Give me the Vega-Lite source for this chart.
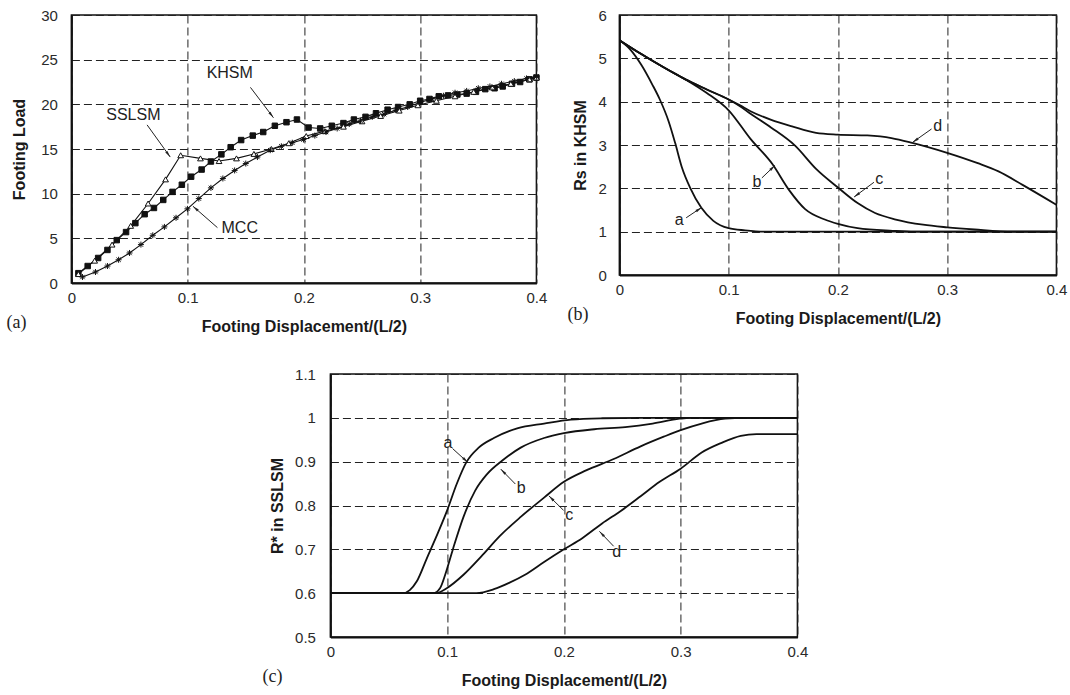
{
  "$schema": "https://vega.github.io/schema/vega-lite/v6.json",
  "background": "white",
  "padding": {"left": 5, "top": 7, "right": 0, "bottom": 0},
  "config": {
    "font": "Liberation Sans",
    "view": {"stroke": "#111", "strokeWidth": 1.5},
    "axis": {"grid": true, "gridDash": [8, 4], "gridColor": "#222", "gridWidth": 1, "gridOpacity": 1, "ticks": false, "domainColor": "#111", "domainWidth": 2, "labelFont": "Liberation Sans", "labelFontSize": 15, "labelColor": "#2a2a2a", "labelFlush": false, "titleFont": "Liberation Sans", "titleFontSize": 16, "titleFontWeight": "bold", "titleColor": "#1a1a1a"},
    "title": {"font": "Liberation Serif", "fontSize": 18, "fontWeight": "normal", "color": "#222"},
    "text": {"font": "Liberation Sans", "fontSize": 16, "color": "#222"}
  },
  "datasets": {
    "loadCurves": [
      {"series": "KHSM", "disp": 0.006, "load": 1.1}, {"series": "KHSM", "disp": 0.014, "load": 1.9}, {"series": "KHSM", "disp": 0.023, "load": 2.8}, {"series": "KHSM", "disp": 0.031, "load": 3.7}, {"series": "KHSM", "disp": 0.039, "load": 4.8}, {"series": "KHSM", "disp": 0.047, "load": 5.7}, {"series": "KHSM", "disp": 0.055, "load": 6.7}, {"series": "KHSM", "disp": 0.063, "load": 7.7}, {"series": "KHSM", "disp": 0.071, "load": 8.4}, {"series": "KHSM", "disp": 0.079, "load": 9.3}, {"series": "KHSM", "disp": 0.087, "load": 10.2}, {"series": "KHSM", "disp": 0.095, "load": 11.0}, {"series": "KHSM", "disp": 0.103, "load": 11.9}, {"series": "KHSM", "disp": 0.112, "load": 12.7}, {"series": "KHSM", "disp": 0.12, "load": 13.6}, {"series": "KHSM", "disp": 0.129, "load": 14.4}, {"series": "KHSM", "disp": 0.137, "load": 15.2}, {"series": "KHSM", "disp": 0.146, "load": 16.0}, {"series": "KHSM", "disp": 0.156, "load": 16.5}, {"series": "KHSM", "disp": 0.165, "load": 16.9}, {"series": "KHSM", "disp": 0.175, "load": 17.6}, {"series": "KHSM", "disp": 0.185, "load": 18.0}, {"series": "KHSM", "disp": 0.194, "load": 18.3}, {"series": "KHSM", "disp": 0.204, "load": 17.4}, {"series": "KHSM", "disp": 0.214, "load": 17.3}, {"series": "KHSM", "disp": 0.224, "load": 17.6}, {"series": "KHSM", "disp": 0.234, "load": 17.9}, {"series": "KHSM", "disp": 0.243, "load": 18.3}, {"series": "KHSM", "disp": 0.253, "load": 18.6}, {"series": "KHSM", "disp": 0.262, "load": 19.0}, {"series": "KHSM", "disp": 0.272, "load": 19.4}, {"series": "KHSM", "disp": 0.281, "load": 19.7}, {"series": "KHSM", "disp": 0.291, "load": 20.0}, {"series": "KHSM", "disp": 0.3, "load": 20.4}, {"series": "KHSM", "disp": 0.308, "load": 20.6}, {"series": "KHSM", "disp": 0.316, "load": 20.9}, {"series": "KHSM", "disp": 0.324, "load": 21.0}, {"series": "KHSM", "disp": 0.332, "load": 21.1}, {"series": "KHSM", "disp": 0.34, "load": 21.2}, {"series": "KHSM", "disp": 0.348, "load": 21.4}, {"series": "KHSM", "disp": 0.356, "load": 21.7}, {"series": "KHSM", "disp": 0.364, "load": 21.8}, {"series": "KHSM", "disp": 0.371, "load": 22.0}, {"series": "KHSM", "disp": 0.379, "load": 22.3}, {"series": "KHSM", "disp": 0.386, "load": 22.5}, {"series": "KHSM", "disp": 0.394, "load": 22.8}, {"series": "KHSM", "disp": 0.4, "load": 23.0},
      {"series": "SSLSM", "disp": 0.006, "load": 1.0}, {"series": "SSLSM", "disp": 0.02, "load": 2.5}, {"series": "SSLSM", "disp": 0.035, "load": 4.3}, {"series": "SSLSM", "disp": 0.051, "load": 6.4}, {"series": "SSLSM", "disp": 0.066, "load": 8.9}, {"series": "SSLSM", "disp": 0.081, "load": 11.6}, {"series": "SSLSM", "disp": 0.094, "load": 14.3}, {"series": "SSLSM", "disp": 0.111, "load": 13.95}, {"series": "SSLSM", "disp": 0.127, "load": 13.65}, {"series": "SSLSM", "disp": 0.142, "load": 13.95}, {"series": "SSLSM", "disp": 0.157, "load": 14.45}, {"series": "SSLSM", "disp": 0.172, "load": 15.0}, {"series": "SSLSM", "disp": 0.187, "load": 15.65}, {"series": "SSLSM", "disp": 0.202, "load": 16.45}, {"series": "SSLSM", "disp": 0.218, "load": 17.0}, {"series": "SSLSM", "disp": 0.234, "load": 17.5}, {"series": "SSLSM", "disp": 0.25, "load": 18.1}, {"series": "SSLSM", "disp": 0.266, "load": 18.7}, {"series": "SSLSM", "disp": 0.282, "load": 19.3}, {"series": "SSLSM", "disp": 0.298, "load": 19.9}, {"series": "SSLSM", "disp": 0.314, "load": 20.4}, {"series": "SSLSM", "disp": 0.33, "load": 20.9}, {"series": "SSLSM", "disp": 0.346, "load": 21.4}, {"series": "SSLSM", "disp": 0.362, "load": 21.9}, {"series": "SSLSM", "disp": 0.378, "load": 22.3}, {"series": "SSLSM", "disp": 0.394, "load": 22.8}, {"series": "SSLSM", "disp": 0.4, "load": 23.0},
      {"series": "MCC", "disp": 0.0095, "load": 0.67}, {"series": "MCC", "disp": 0.0207, "load": 1.23}, {"series": "MCC", "disp": 0.031, "load": 1.9}, {"series": "MCC", "disp": 0.0406, "load": 2.6}, {"series": "MCC", "disp": 0.05, "load": 3.36}, {"series": "MCC", "disp": 0.0598, "load": 4.3}, {"series": "MCC", "disp": 0.07, "load": 5.34}, {"series": "MCC", "disp": 0.08, "load": 6.28}, {"series": "MCC", "disp": 0.09, "load": 7.3}, {"series": "MCC", "disp": 0.0998, "load": 8.3}, {"series": "MCC", "disp": 0.1096, "load": 9.45}, {"series": "MCC", "disp": 0.12, "load": 10.65}, {"series": "MCC", "disp": 0.1303, "load": 11.7}, {"series": "MCC", "disp": 0.1404, "load": 12.6}, {"series": "MCC", "disp": 0.15, "load": 13.37}, {"series": "MCC", "disp": 0.16, "load": 14.1}, {"series": "MCC", "disp": 0.171, "load": 14.87}, {"series": "MCC", "disp": 0.1806, "load": 15.3}, {"series": "MCC", "disp": 0.19, "load": 15.7}, {"series": "MCC", "disp": 0.1996, "load": 16.06}, {"series": "MCC", "disp": 0.2094, "load": 16.5}, {"series": "MCC", "disp": 0.219, "load": 16.9}, {"series": "MCC", "disp": 0.2286, "load": 17.3}, {"series": "MCC", "disp": 0.239, "load": 17.8}, {"series": "MCC", "disp": 0.2487, "load": 18.15}, {"series": "MCC", "disp": 0.2588, "load": 18.6}, {"series": "MCC", "disp": 0.269, "load": 18.9}, {"series": "MCC", "disp": 0.279, "load": 19.35}, {"series": "MCC", "disp": 0.2893, "load": 19.7}, {"series": "MCC", "disp": 0.2997, "load": 20.2}, {"series": "MCC", "disp": 0.31, "load": 20.6}, {"series": "MCC", "disp": 0.32, "load": 20.96}, {"series": "MCC", "disp": 0.33, "load": 21.3}, {"series": "MCC", "disp": 0.34, "load": 21.5}, {"series": "MCC", "disp": 0.35, "load": 21.8}, {"series": "MCC", "disp": 0.36, "load": 22.0}, {"series": "MCC", "disp": 0.37, "load": 22.3}, {"series": "MCC", "disp": 0.381, "load": 22.6}, {"series": "MCC", "disp": 0.3915, "load": 22.9}, {"series": "MCC", "disp": 0.4, "load": 23.1}
    ],
    "annA": [
      {"label": "KHSM", "lx": 0.1362, "ly": 23.5, "x1": 0.154, "y1": 21.9, "x2": 0.1738, "y2": 18.5},
      {"label": "SSLSM", "lx": 0.0533, "ly": 18.8, "x1": 0.0651, "y1": 17.7, "x2": 0.085, "y2": 14.1},
      {"label": "MCC", "lx": 0.1448, "ly": 6.2, "x1": 0.1256, "y1": 6.2, "x2": 0.1045, "y2": 8.6}
    ],
    "rsCurves": [
      {"curve": "a", "disp": 0, "rs": 5.42}, {"curve": "a", "disp": 0.01, "rs": 5.2}, {"curve": "a", "disp": 0.02, "rs": 4.85}, {"curve": "a", "disp": 0.03, "rs": 4.4}, {"curve": "a", "disp": 0.037, "rs": 4.05}, {"curve": "a", "disp": 0.045, "rs": 3.55}, {"curve": "a", "disp": 0.051, "rs": 3.05}, {"curve": "a", "disp": 0.057, "rs": 2.5}, {"curve": "a", "disp": 0.065, "rs": 2.0}, {"curve": "a", "disp": 0.075, "rs": 1.55}, {"curve": "a", "disp": 0.086, "rs": 1.25}, {"curve": "a", "disp": 0.1, "rs": 1.08}, {"curve": "a", "disp": 0.115, "rs": 1.03}, {"curve": "a", "disp": 0.133, "rs": 1.0}, {"curve": "a", "disp": 0.4, "rs": 1.0},
      {"curve": "b", "disp": 0, "rs": 5.42}, {"curve": "b", "disp": 0.02, "rs": 5.1}, {"curve": "b", "disp": 0.04, "rs": 4.8}, {"curve": "b", "disp": 0.06, "rs": 4.52}, {"curve": "b", "disp": 0.08, "rs": 4.2}, {"curve": "b", "disp": 0.1, "rs": 3.8}, {"curve": "b", "disp": 0.12, "rs": 3.14}, {"curve": "b", "disp": 0.14, "rs": 2.56}, {"curve": "b", "disp": 0.155, "rs": 1.97}, {"curve": "b", "disp": 0.17, "rs": 1.52}, {"curve": "b", "disp": 0.188, "rs": 1.28}, {"curve": "b", "disp": 0.2, "rs": 1.18}, {"curve": "b", "disp": 0.218, "rs": 1.08}, {"curve": "b", "disp": 0.25, "rs": 1.02}, {"curve": "b", "disp": 0.27, "rs": 1.0}, {"curve": "b", "disp": 0.4, "rs": 1.0},
      {"curve": "c", "disp": 0, "rs": 5.42}, {"curve": "c", "disp": 0.02, "rs": 5.1}, {"curve": "c", "disp": 0.04, "rs": 4.8}, {"curve": "c", "disp": 0.06, "rs": 4.52}, {"curve": "c", "disp": 0.08, "rs": 4.28}, {"curve": "c", "disp": 0.1, "rs": 4.05}, {"curve": "c", "disp": 0.11, "rs": 3.9}, {"curve": "c", "disp": 0.12, "rs": 3.72}, {"curve": "c", "disp": 0.139, "rs": 3.4}, {"curve": "c", "disp": 0.161, "rs": 2.98}, {"curve": "c", "disp": 0.18, "rs": 2.45}, {"curve": "c", "disp": 0.2, "rs": 2.02}, {"curve": "c", "disp": 0.218, "rs": 1.66}, {"curve": "c", "disp": 0.234, "rs": 1.43}, {"curve": "c", "disp": 0.253, "rs": 1.28}, {"curve": "c", "disp": 0.278, "rs": 1.16}, {"curve": "c", "disp": 0.3, "rs": 1.1}, {"curve": "c", "disp": 0.325, "rs": 1.05}, {"curve": "c", "disp": 0.36, "rs": 1.0}, {"curve": "c", "disp": 0.4, "rs": 1.0},
      {"curve": "d", "disp": 0, "rs": 5.42}, {"curve": "d", "disp": 0.02, "rs": 5.1}, {"curve": "d", "disp": 0.04, "rs": 4.8}, {"curve": "d", "disp": 0.06, "rs": 4.52}, {"curve": "d", "disp": 0.08, "rs": 4.28}, {"curve": "d", "disp": 0.1, "rs": 4.05}, {"curve": "d", "disp": 0.11, "rs": 3.92}, {"curve": "d", "disp": 0.12, "rs": 3.78}, {"curve": "d", "disp": 0.139, "rs": 3.58}, {"curve": "d", "disp": 0.158, "rs": 3.43}, {"curve": "d", "disp": 0.18, "rs": 3.28}, {"curve": "d", "disp": 0.2, "rs": 3.24}, {"curve": "d", "disp": 0.227, "rs": 3.22}, {"curve": "d", "disp": 0.249, "rs": 3.16}, {"curve": "d", "disp": 0.268, "rs": 3.05}, {"curve": "d", "disp": 0.3, "rs": 2.82}, {"curve": "d", "disp": 0.328, "rs": 2.58}, {"curve": "d", "disp": 0.347, "rs": 2.39}, {"curve": "d", "disp": 0.369, "rs": 2.08}, {"curve": "d", "disp": 0.4, "rs": 1.62}
    ],
    "annB": [
      {"label": "a", "lx": 0.0548, "ly": 1.26, "x1": 0.0611, "y1": 1.32, "x2": 0.0753, "y2": 1.56},
      {"label": "b", "lx": 0.126, "ly": 2.14, "x1": 0.1304, "y1": 2.24, "x2": 0.1424, "y2": 2.53},
      {"label": "c", "lx": 0.2378, "ly": 2.22, "x1": 0.233, "y1": 2.14, "x2": 0.2148, "y2": 1.8},
      {"label": "d", "lx": 0.2913, "ly": 3.45, "x1": 0.2857, "y1": 3.37, "x2": 0.2683, "y2": 3.06}
    ],
    "rCurves": [
      {"curve": "a", "disp": 0, "r": 0.6}, {"curve": "a", "disp": 0.062, "r": 0.6}, {"curve": "a", "disp": 0.068, "r": 0.607}, {"curve": "a", "disp": 0.074, "r": 0.627}, {"curve": "a", "disp": 0.0825, "r": 0.679}, {"curve": "a", "disp": 0.092, "r": 0.737}, {"curve": "a", "disp": 0.1, "r": 0.789}, {"curve": "a", "disp": 0.108, "r": 0.848}, {"curve": "a", "disp": 0.1165, "r": 0.899}, {"curve": "a", "disp": 0.127, "r": 0.932}, {"curve": "a", "disp": 0.14, "r": 0.954}, {"curve": "a", "disp": 0.16, "r": 0.976}, {"curve": "a", "disp": 0.183, "r": 0.987}, {"curve": "a", "disp": 0.206, "r": 0.996}, {"curve": "a", "disp": 0.233, "r": 0.999}, {"curve": "a", "disp": 0.266, "r": 1.0}, {"curve": "a", "disp": 0.4, "r": 1.0},
      {"curve": "b", "disp": 0, "r": 0.6}, {"curve": "b", "disp": 0.088, "r": 0.6}, {"curve": "b", "disp": 0.094, "r": 0.612}, {"curve": "b", "disp": 0.0983, "r": 0.642}, {"curve": "b", "disp": 0.105, "r": 0.701}, {"curve": "b", "disp": 0.114, "r": 0.774}, {"curve": "b", "disp": 0.124, "r": 0.834}, {"curve": "b", "disp": 0.134, "r": 0.871}, {"curve": "b", "disp": 0.147, "r": 0.902}, {"curve": "b", "disp": 0.163, "r": 0.932}, {"curve": "b", "disp": 0.183, "r": 0.954}, {"curve": "b", "disp": 0.2, "r": 0.965}, {"curve": "b", "disp": 0.226, "r": 0.974}, {"curve": "b", "disp": 0.2525, "r": 0.979}, {"curve": "b", "disp": 0.276, "r": 0.987}, {"curve": "b", "disp": 0.299, "r": 0.998}, {"curve": "b", "disp": 0.308, "r": 1.0}, {"curve": "b", "disp": 0.4, "r": 1.0},
      {"curve": "c", "disp": 0, "r": 0.6}, {"curve": "c", "disp": 0.09, "r": 0.6}, {"curve": "c", "disp": 0.1, "r": 0.612}, {"curve": "c", "disp": 0.114, "r": 0.642}, {"curve": "c", "disp": 0.13, "r": 0.686}, {"curve": "c", "disp": 0.145, "r": 0.73}, {"curve": "c", "disp": 0.163, "r": 0.774}, {"curve": "c", "disp": 0.183, "r": 0.818}, {"curve": "c", "disp": 0.2, "r": 0.854}, {"curve": "c", "disp": 0.219, "r": 0.88}, {"curve": "c", "disp": 0.2426, "r": 0.906}, {"curve": "c", "disp": 0.2657, "r": 0.935}, {"curve": "c", "disp": 0.2855, "r": 0.957}, {"curve": "c", "disp": 0.3, "r": 0.972}, {"curve": "c", "disp": 0.318, "r": 0.987}, {"curve": "c", "disp": 0.338, "r": 0.998}, {"curve": "c", "disp": 0.355, "r": 1.0}, {"curve": "c", "disp": 0.4, "r": 1.0},
      {"curve": "d", "disp": 0, "r": 0.6}, {"curve": "d", "disp": 0.125, "r": 0.6}, {"curve": "d", "disp": 0.14, "r": 0.609}, {"curve": "d", "disp": 0.1535, "r": 0.624}, {"curve": "d", "disp": 0.1667, "r": 0.642}, {"curve": "d", "disp": 0.183, "r": 0.671}, {"curve": "d", "disp": 0.2, "r": 0.7}, {"curve": "d", "disp": 0.216, "r": 0.726}, {"curve": "d", "disp": 0.2327, "r": 0.759}, {"curve": "d", "disp": 0.249, "r": 0.788}, {"curve": "d", "disp": 0.2657, "r": 0.821}, {"curve": "d", "disp": 0.282, "r": 0.854}, {"curve": "d", "disp": 0.3, "r": 0.884}, {"curve": "d", "disp": 0.318, "r": 0.921}, {"curve": "d", "disp": 0.335, "r": 0.943}, {"curve": "d", "disp": 0.3515, "r": 0.959}, {"curve": "d", "disp": 0.365, "r": 0.963}, {"curve": "d", "disp": 0.4, "r": 0.963}
    ],
    "annC": [
      {"label": "a", "lx": 0.1007, "ly": 0.943, "x1": 0.1046, "y1": 0.93, "x2": 0.1178, "y2": 0.898},
      {"label": "b", "lx": 0.1634, "ly": 0.839, "x1": 0.1584, "y1": 0.849, "x2": 0.1459, "y2": 0.883},
      {"label": "c", "lx": 0.2046, "ly": 0.778, "x1": 0.1997, "y1": 0.789, "x2": 0.1871, "y2": 0.822},
      {"label": "d", "lx": 0.2452, "ly": 0.695, "x1": 0.2426, "y1": 0.707, "x2": 0.2304, "y2": 0.741}
    ]
  },
  "center": true,
  "spacing": 31,
  "vconcat": [
    {
      "spacing": 18,
      "hconcat": [
        {
          "width": 465, "height": 268,
          "title": {"text": "(a)", "orient": "bottom", "anchor": "start", "frame": "group", "dx": -65, "offset": -20},
          "layer": [
            {
              "data": {"name": "loadCurves"},
              "mark": {"type": "line", "color": "#111", "strokeWidth": 1.1},
              "encoding": {
                "x": {"field": "disp", "type": "quantitative", "title": "Footing Displacement/(L/2)", "scale": {"domain": [0, 0.4], "nice": false}, "axis": {"values": [0, 0.1, 0.2, 0.3, 0.4], "format": "~g", "labelPadding": 7, "titlePadding": 13}},
                "y": {"field": "load", "type": "quantitative", "title": "Footing Load", "scale": {"domain": [0, 30], "nice": false}, "axis": {"values": [0, 5, 10, 15, 20, 25, 30], "labelPadding": 14, "titlePadding": 13}},
                "detail": {"field": "series"}
              }
            },
            {
              "data": {"name": "loadCurves"},
              "mark": {"type": "point", "strokeWidth": 1, "opacity": 1},
              "encoding": {
                "x": {"field": "disp", "type": "quantitative", "title": "Footing Displacement/(L/2)"},
                "y": {"field": "load", "type": "quantitative", "title": "Footing Load"},
                "shape": {"field": "series", "type": "nominal", "scale": {"domain": ["KHSM", "SSLSM", "MCC"], "range": ["square", "triangle-up", "M-1,0L1,0M0,-1L0,1M-0.72,-0.72L0.72,0.72M-0.72,0.72L0.72,-0.72"]}, "legend": null},
                "fill": {"field": "series", "type": "nominal", "scale": {"domain": ["KHSM", "SSLSM", "MCC"], "range": ["#111", "white", "transparent"]}, "legend": null},
                "size": {"field": "series", "type": "nominal", "scale": {"domain": ["KHSM", "SSLSM", "MCC"], "range": [30, 36, 56]}, "legend": null},
                "stroke": {"value": "#111"}
              }
            },
            {
              "data": {"name": "annA"},
              "mark": {"type": "rule", "color": "#222", "strokeWidth": 1},
              "encoding": {
                "x": {"field": "x1", "type": "quantitative", "title": "Footing Displacement/(L/2)"},
                "y": {"field": "y1", "type": "quantitative", "title": "Footing Load"},
                "x2": {"field": "x2"}, "y2": {"field": "y2"}
              }
            },
            {
              "data": {"name": "annA"},
              "transform": [{"calculate": "atan2((datum.x2 - datum.x1) * 1162.5, (datum.y2 - datum.y1) * 8.933) * 180 / PI", "as": "ang"}],
              "mark": {"type": "point", "shape": "M0,0L-0.45,2.2L0.45,2.2Z", "filled": true, "color": "#222", "size": 36, "opacity": 1},
              "encoding": {
                "x": {"field": "x2", "type": "quantitative", "title": "Footing Displacement/(L/2)"},
                "y": {"field": "y2", "type": "quantitative", "title": "Footing Load"},
                "angle": {"field": "ang", "type": "quantitative", "scale": null}
              }
            },
            {
              "data": {"name": "annA"},
              "mark": {"type": "text"},
              "encoding": {
                "x": {"field": "lx", "type": "quantitative", "title": "Footing Displacement/(L/2)"},
                "y": {"field": "ly", "type": "quantitative", "title": "Footing Load"},
                "text": {"field": "label"}
              }
            }
          ]
        },
        {
          "width": 437, "height": 260,
          "title": {"text": "(b)", "orient": "bottom", "anchor": "start", "frame": "group", "dx": -52, "offset": -20},
          "layer": [
            {
              "data": {"name": "rsCurves"},
              "mark": {"type": "line", "color": "#111", "strokeWidth": 1.8, "interpolate": "monotone"},
              "encoding": {
                "x": {"field": "disp", "type": "quantitative", "title": "Footing Displacement/(L/2)", "scale": {"domain": [0, 0.4], "nice": false}, "axis": {"values": [0, 0.1, 0.2, 0.3, 0.4], "format": "~g", "labelPadding": 7, "titlePadding": 13}},
                "y": {"field": "rs", "type": "quantitative", "title": "Rs in KHSM", "scale": {"domain": [0, 6], "nice": false}, "axis": {"values": [0, 1, 2, 3, 4, 5, 6], "labelPadding": 13, "titlePadding": 10}},
                "detail": {"field": "curve"}
              }
            },
            {
              "data": {"name": "annB"},
              "mark": {"type": "rule", "color": "#222", "strokeWidth": 1},
              "encoding": {
                "x": {"field": "x1", "type": "quantitative", "title": "Footing Displacement/(L/2)"},
                "y": {"field": "y1", "type": "quantitative", "title": "Rs in KHSM"},
                "x2": {"field": "x2"}, "y2": {"field": "y2"}
              }
            },
            {
              "data": {"name": "annB"},
              "transform": [{"calculate": "atan2((datum.x2 - datum.x1) * 1092.5, (datum.y2 - datum.y1) * 43.33) * 180 / PI", "as": "ang"}],
              "mark": {"type": "point", "shape": "M0,0L-0.45,2.2L0.45,2.2Z", "filled": true, "color": "#222", "size": 36, "opacity": 1},
              "encoding": {
                "x": {"field": "x2", "type": "quantitative", "title": "Footing Displacement/(L/2)"},
                "y": {"field": "y2", "type": "quantitative", "title": "Rs in KHSM"},
                "angle": {"field": "ang", "type": "quantitative", "scale": null}
              }
            },
            {
              "data": {"name": "annB"},
              "mark": {"type": "text"},
              "encoding": {
                "x": {"field": "lx", "type": "quantitative", "title": "Footing Displacement/(L/2)"},
                "y": {"field": "ly", "type": "quantitative", "title": "Rs in KHSM"},
                "text": {"field": "label"}
              }
            }
          ]
        }
      ]
    },
    {
      "width": 467, "height": 263,
      "title": {"text": "(c)", "orient": "bottom", "anchor": "start", "frame": "group", "dx": -68, "offset": -20},
      "layer": [
        {
          "data": {"name": "rCurves"},
          "mark": {"type": "line", "color": "#111", "strokeWidth": 1.8, "interpolate": "monotone"},
          "encoding": {
            "x": {"field": "disp", "type": "quantitative", "title": "Footing Displacement/(L/2)", "scale": {"domain": [0, 0.4], "nice": false}, "axis": {"values": [0, 0.1, 0.2, 0.3, 0.4], "format": "~g", "labelPadding": 7, "titlePadding": 13}},
            "y": {"field": "r", "type": "quantitative", "title": "R* in SSLSM", "scale": {"domain": [0.5, 1.1], "nice": false, "zero": false}, "axis": {"values": [0.5, 0.6, 0.7, 0.8, 0.9, 1.0, 1.1], "format": "~g", "labelPadding": 15, "titlePadding": 9}},
            "detail": {"field": "curve"}
          }
        },
        {
          "data": {"name": "annC"},
          "mark": {"type": "rule", "color": "#222", "strokeWidth": 1},
          "encoding": {
            "x": {"field": "x1", "type": "quantitative", "title": "Footing Displacement/(L/2)"},
            "y": {"field": "y1", "type": "quantitative", "title": "R* in SSLSM"},
            "x2": {"field": "x2"}, "y2": {"field": "y2"}
          }
        },
        {
          "data": {"name": "annC"},
          "transform": [{"calculate": "atan2((datum.x2 - datum.x1) * 1167.5, (datum.y2 - datum.y1) * 438.9) * 180 / PI", "as": "ang"}],
          "mark": {"type": "point", "shape": "M0,0L-0.45,2.2L0.45,2.2Z", "filled": true, "color": "#222", "size": 36, "opacity": 1},
          "encoding": {
            "x": {"field": "x2", "type": "quantitative", "title": "Footing Displacement/(L/2)"},
            "y": {"field": "y2", "type": "quantitative", "title": "R* in SSLSM"},
            "angle": {"field": "ang", "type": "quantitative", "scale": null}
          }
        },
        {
          "data": {"name": "annC"},
          "mark": {"type": "text"},
          "encoding": {
            "x": {"field": "lx", "type": "quantitative", "title": "Footing Displacement/(L/2)"},
            "y": {"field": "ly", "type": "quantitative", "title": "R* in SSLSM"},
            "text": {"field": "label"}
          }
        }
      ]
    }
  ]
}
